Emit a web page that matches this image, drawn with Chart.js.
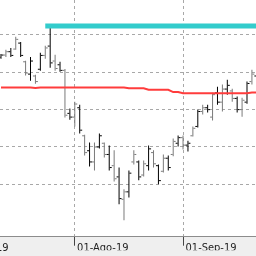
<!DOCTYPE html>
<html>
<head>
<meta charset="utf-8">
<script src="https://cdn.jsdelivr.net/npm/chart.js@4.4.1/dist/chart.umd.min.js"></script>
<style>
  html, body { margin: 0; padding: 0; background: #fff; }
  #wrap { width: 256px; height: 256px; }
</style>
</head>
<body>
<div id="wrap"><canvas id="priceChart"></canvas></div>
<script>
// daily bars, one per trading day
const highs = [24.49, 24.60, 24.65, 24.95, 24.81, 24.31, 24.41, 23.93, 24.52, 24.71,
  25.27, 24.47, 24.28, 24.09, 23.03, 23.21, 23.13, 22.33, 22.12, 22.12,
  22.36, 22.12, 22.04, 21.91, 21.45, 20.87, 21.37, 21.91, 21.64, 21.64,
  22.04, 21.91, 21.53, 21.80, 21.77, 22.23, 22.31, 22.31, 22.17, 22.55,
  23.00, 23.13, 23.13, 23.45, 23.61, 23.67, 23.80, 23.56, 23.35, 23.32,
  23.75, 24.07, 23.95];
const lows = [24.36, 24.41, 24.41, 24.60, 24.41, 23.91, 23.77, 23.69, 24.04, 24.36,
  24.12, 24.04, 24.01, 22.79, 22.73, 22.55, 22.36, 21.77, 21.48, 21.37,
  21.96, 21.72, 21.37, 21.08, 20.47, 20.04, 20.65, 21.53, 21.11, 21.21,
  21.37, 21.45, 21.00, 21.32, 21.37, 21.75, 22.01, 21.93, 21.88, 22.28,
  22.52, 22.87, 22.92, 22.71, 23.13, 22.95, 23.40, 23.21, 22.92, 22.81,
  23.16, 23.67, 23.60];
const opens = [24.40, 24.46, 24.55, 24.62, 24.78, 24.28, 23.95, 23.90, 24.08, 24.45,
  24.70, 24.30, 24.20, 24.05, 22.90, 22.80, 23.05, 22.30, 21.90, 21.60,
  22.00, 22.10, 21.80, 21.50, 21.20, 20.60, 20.80, 21.60, 21.60, 21.25,
  21.50, 21.85, 21.50, 21.35, 21.70, 21.80, 22.10, 22.25, 22.05, 22.30,
  22.55, 22.95, 23.05, 22.80, 23.45, 23.20, 23.55, 23.50, 23.30, 23.00,
  23.20, 23.75, 23.90];
const closes = [24.46, 24.55, 24.45, 24.88, 24.45, 23.98, 24.30, 23.75, 24.45, 24.65,
  24.25, 24.10, 24.05, 22.85, 22.80, 23.15, 22.45, 21.85, 21.60, 22.00,
  22.30, 21.80, 21.45, 21.15, 20.62, 20.80, 21.30, 21.80, 21.20, 21.55,
  21.95, 21.55, 21.10, 21.70, 21.45, 22.15, 22.25, 22.05, 22.10, 22.50,
  22.95, 23.05, 23.00, 23.40, 23.20, 23.55, 23.65, 23.30, 23.00, 23.25,
  23.70, 23.95, 23.70];
// red moving average
const average = [23.59, 23.59, 23.59, 23.59, 23.59, 23.59, 23.59, 23.58, 23.59, 23.59,
  23.59, 23.59, 23.59, 23.59, 23.59, 23.59, 23.59, 23.59, 23.59, 23.59,
  23.59, 23.59, 23.59, 23.59, 23.59, 23.59, 23.57, 23.57, 23.57, 23.57,
  23.53, 23.53, 23.53, 23.53, 23.53, 23.47, 23.47, 23.44, 23.44, 23.44,
  23.44, 23.44, 23.44, 23.44, 23.44, 23.44, 23.44, 23.44, 23.44, 23.44,
  23.44, 23.46, 23.46];
// turquoise horizontal level
const resistance = 25.24;
const resistanceFrom = 9;
const resistanceTo = 53;
// x ticks (bar index) and their labels; the first one sits left of the view
const tickPositions = [15, 37];
const tickLabels = ["01-Ago-19", "01-Sep-19"];
const hiddenTick = -8;
const hiddenLabel = "01-Jul-19";
const gridLevels = [21, 22, 23, 24, 25];

const idx = highs.map((_, i) => i);
const barColor = c => (c.dataIndex % 2 ? "#7a7a7a" : "#000");
const labelFont = { family: "'DejaVu Sans Condensed', 'DejaVu Sans', sans-serif", size: 11, lineHeight: 1.2 };
const tickLen = 9;
const tickPad = -4.3;

// light grey strip under the time axis + label of the month starting off-screen
const bandPlugin = {
  id: "band",
  beforeDraw(chart) {
    const { ctx, chartArea, width, height } = chart;
    ctx.save();
    ctx.fillStyle = "#efefef";
    ctx.fillRect(0, chartArea.bottom, width, height - chartArea.bottom);
    ctx.restore();
  },
  afterDraw(chart) {
    const { ctx, chartArea, scales } = chart;
    const x = scales.x.getPixelForValue(hiddenTick);
    ctx.save();
    ctx.font = Chart.helpers.toFont(labelFont).string;
    ctx.fillStyle = "#222";
    ctx.textAlign = "left";
    ctx.textBaseline = "middle";
    ctx.fillText(hiddenLabel, x + 2, chartArea.bottom + tickLen + tickPad + labelFont.size * labelFont.lineHeight / 2);
    ctx.restore();
  }
};

const ctx = document.getElementById("priceChart").getContext("2d");
new Chart(ctx, {
  type: "bar",
  data: {
    datasets: [
      {
        type: "line",
        data: [{ x: resistanceFrom, y: resistance }, { x: resistanceTo, y: resistance }],
        borderColor: "#33cccc",
        borderWidth: 5,
        pointRadius: 0,
        order: 0
      },
      {
        type: "line",
        data: idx.map(i => ({ x: i, y: average[i] })),
        borderColor: "#ff3c3c",
        borderWidth: 2,
        pointRadius: 0,
        tension: 0,
        order: 0
      },
      {
        type: "bar",
        data: idx.map(i => ({ x: i, y: [lows[i], highs[i]] })),
        backgroundColor: barColor,
        borderWidth: 0,
        inflateAmount: 0,
        barThickness: 1,
        order: 1
      },
      {
        type: "scatter",
        data: idx.map(i => ({ x: i - 0.3, y: opens[i] })),
        pointStyle: "line",
        pointRadius: 1,
        borderColor: barColor,
        borderWidth: 1,
        order: 1
      },
      {
        type: "scatter",
        data: idx.map(i => ({ x: i + 0.3, y: closes[i] })),
        pointStyle: "line",
        pointRadius: 1,
        borderColor: barColor,
        borderWidth: 1,
        order: 1
      }
    ]
  },
  options: {
    responsive: true,
    maintainAspectRatio: false,
    animation: false,
    layout: { padding: { left: 0, right: 0, top: 0, bottom: 5.7 }, autoPadding: false },
    plugins: { legend: { display: false }, tooltip: { enabled: false } },
    scales: {
      x: {
        type: "linear",
        min: -0.2,
        max: 51.83,
        offset: false,
        afterBuildTicks: s => { s.ticks = tickPositions.map(v => ({ value: v })); },
        ticks: {
          autoSkip: false,
          maxRotation: 0,
          padding: tickPad,
          labelOffset: 28,
          color: "#222",
          font: labelFont,
          callback: v => tickLabels[tickPositions.indexOf(v)]
        },
        grid: {
          offset: false,
          color: "#a8a8a8",
          tickColor: "#444",
          tickLength: tickLen,
          tickBorderDash: []
        },
        border: { display: true, color: "#8c8c8c", width: 1, dash: [3, 3] }
      },
      y: {
        type: "linear",
        position: "right",
        min: 19.6,
        max: 25.933,
        afterBuildTicks: s => { s.ticks = gridLevels.map(v => ({ value: v })); },
        ticks: { display: false },
        grid: { color: "#a8a8a8", drawTicks: false },
        border: { display: false, dash: [3, 3] }
      }
    }
  },
  plugins: [bandPlugin]
});
</script>
</body>
</html>
